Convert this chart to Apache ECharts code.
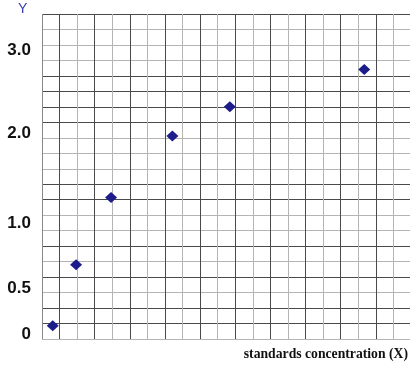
<!DOCTYPE html>
<html>
<head>
<meta charset="utf-8">
<script src="https://cdn.jsdelivr.net/npm/echarts@6/dist/echarts.min.js"></script>
<style>html,body{margin:0;padding:0;background:#fff}#c{width:410px;height:372px}</style>
</head>
<body>
<div id="c"></div>
<script>
// Data in graph-paper units (one unit = one grid cell)
const xValues = [0.61, 1.94, 3.93, 7.42, 10.69, 18.34];
const yValues = [0.86, 4.80, 9.15, 13.11, 15.00, 17.42];
// Y tick labels and their positions on the grid-unit scale
const yTickLabels = ['0', '0.5', '1.0', '2.0', '3.0'];
const yTickPos = [0.32, 3.27, 7.47, 13.31, 18.64];
const xTitle = 'standards concentration (X)';
const yTitle = 'Y';

const D = '#4a4a4a', L = '#b4b4b4';
// shade of each horizontal grid line from the bottom (graph paper scan)
const hShade = [L,D,D,L,D,L,D,L,L,D,D,L,L,L,D,D,D,D,L,L,L,D];
const vShade = [];
for (let k = 0; k <= 21; k++) vShade.push(k === 0 ? '#888' : (k % 2 ? D : L));

const chart = echarts.init(document.getElementById('c'));
chart.setOption({
  animation: false,
  title: { text: yTitle, left: 13, top: -3, textStyle: { color: '#3a3ab0', fontSize: 14, fontWeight: 'normal', fontFamily: 'Liberation Sans' } },
  grid: { left: 42, top: 14, width: 369, height: 325, containLabel: false, outerBoundsMode: 'none' },
  xAxis: {
    type: 'value', min: 0, max: 21, interval: 1,
    axisLine: { show: false }, axisTick: { show: false }, axisLabel: { show: false },
    splitLine: { show: true, lineStyle: { color: vShade, width: 1 } },
    name: xTitle, nameLocation: 'end', nameGap: -3,
    nameTextStyle: { fontFamily: 'Liberation Serif', fontWeight: 'bold', fontSize: 13.7, color: '#111', align: 'right', verticalAlign: 'top', padding: [8, 0, 0, 0] }
  },
  yAxis: {
    type: 'value', min: 0, max: 21, interval: 1,
    axisLine: { show: false }, axisTick: { show: false },
    axisLabel: {
      customValues: yTickPos,
      formatter: v => yTickLabels[yTickPos.indexOf(v)],
      fontFamily: 'Liberation Sans', fontWeight: 'bold', fontSize: 17, color: '#111', margin: 11
    },
    splitLine: { show: true, lineStyle: { color: hShade, width: 1 } }
  },
  series: [{
    type: 'scatter',
    data: xValues.map((x, i) => [x, yValues[i]]),
    symbol: 'diamond', symbolSize: [12, 11],
    itemStyle: { color: '#1c1c8a', opacity: 1 }
  }]
});
</script>
</body>
</html>
